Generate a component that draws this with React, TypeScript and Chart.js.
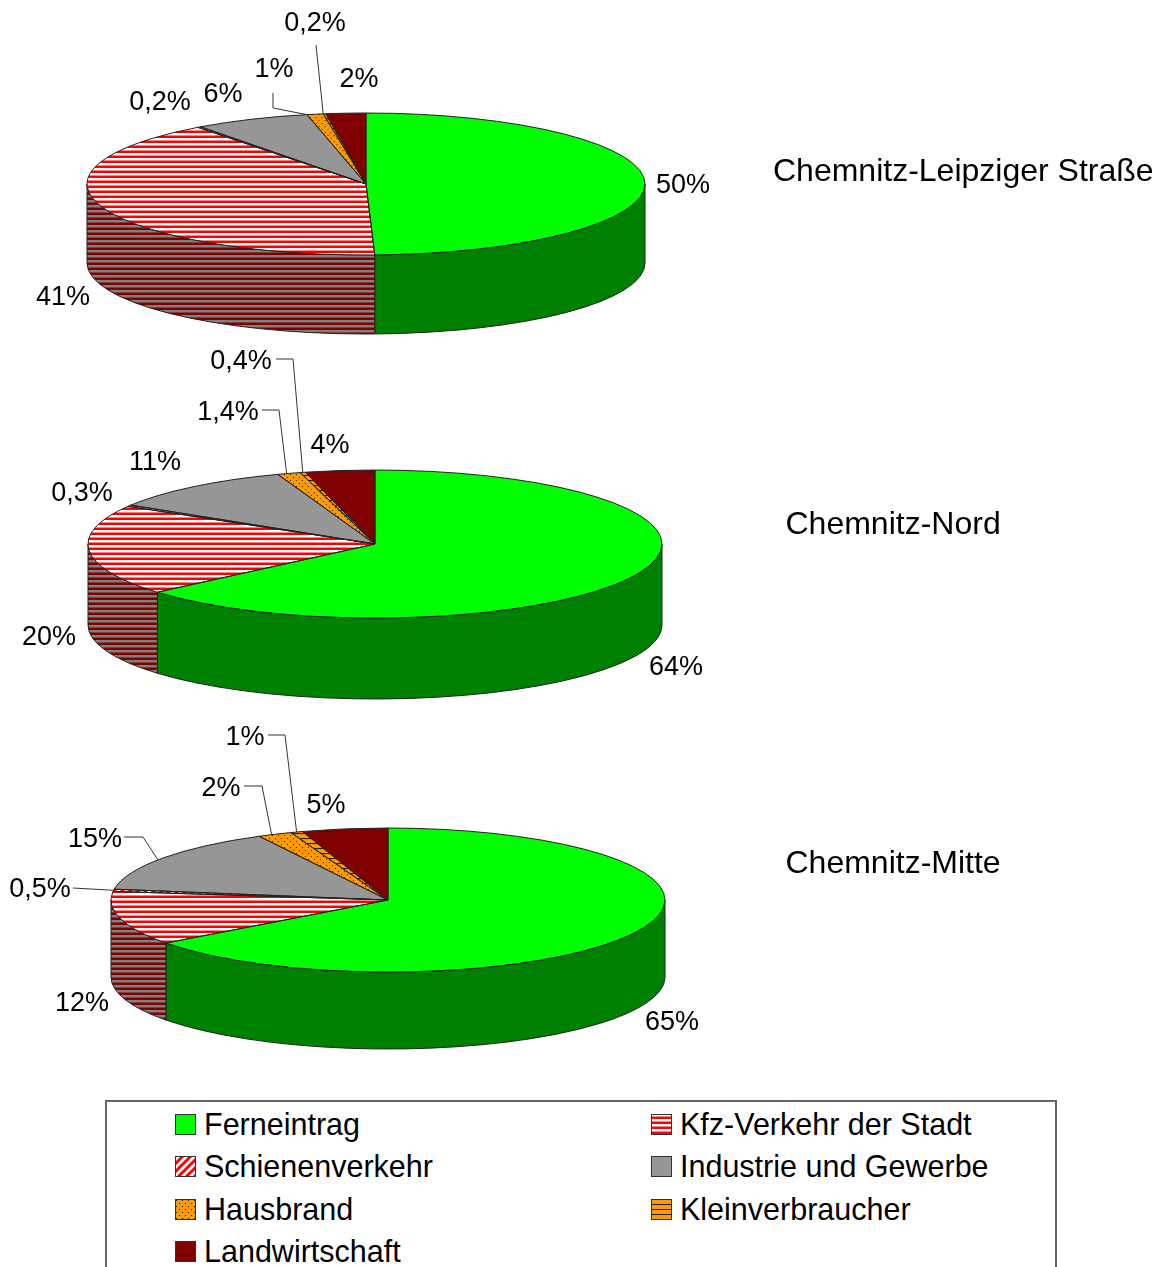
import React, { useEffect, useRef } from "react";
import { Chart, registerables } from "chart.js";

Chart.register(...registerables);

const PAGE_W = 1158;
const PAGE_H = 1267;
const FONT = '"Liberation Sans", Arial, sans-serif';

const categories = ["Ferneintrag", "Kfz-Verkehr der Stadt", "Schienenverkehr", "Industrie und Gewerbe", "Hausbrand", "Kleinverbraucher", "Landwirtschaft"];

const leipzigerValues = [49.5, 40.2, 0.2, 6.7, 0.95, 0.15, 2.3];
const nordValues = [63.7, 19.8, 0.3, 10.7, 1.3, 0.3, 3.9];
const mitteValues = [64.8, 12.1, 0.5, 14.9, 2, 0.7, 5];

const leipzigerLabels = ["50%", "41%", "0,2%", "6%", "1%", "0,2%", "2%"];
const nordLabels = ["64%", "20%", "0,3%", "11%", "1,4%", "0,4%", "4%"];
const mitteLabels = ["65%", "12%", "0,5%", "15%", "2%", "1%", "5%"];

const titles = ["Chemnitz-Leipziger Straße", "Chemnitz-Nord", "Chemnitz-Mitte"];

// ---- layout (page pixels), separate from the data ----
type Leader = { pts: number[][]; at: number };
type Pos = { x: number; y: number; leader?: Leader };

const pieLayouts = [
  {
    top: 0, height: 345, cx: 366, cy: 184, rx: 279, ry: 71, depth: 79,
    titleX: 773, titleY: 170,
    labels: [
      { x: 683, y: 186 }, { x: 63, y: 298 }, { x: 160, y: 103 }, { x: 223, y: 95 },
      { x: 274, y: 70, leader: { pts: [[273, 93], [273, 108]], at: 0 } },
      { x: 315, y: 24, leader: { pts: [[316, 45]], at: 0 } },
      { x: 359, y: 80 },
    ] as Pos[],
  },
  {
    top: 345, height: 360, cx: 375, cy: 544, rx: 287, ry: 74, depth: 81,
    titleX: 785.5, titleY: 523,
    labels: [
      { x: 676, y: 668 }, { x: 49, y: 638 }, { x: 82, y: 494 }, { x: 155, y: 463 },
      { x: 228, y: 413, leader: { pts: [[262, 410], [279, 410]], at: 0.4 } },
      { x: 241, y: 362, leader: { pts: [[276, 359], [293, 359]], at: 0.5 } },
      { x: 330, y: 446 },
    ] as Pos[],
  },
  {
    top: 705, height: 360, cx: 388, cy: 900, rx: 277, ry: 72, depth: 77,
    titleX: 785.5, titleY: 862,
    labels: [
      { x: 672, y: 1023 }, { x: 82, y: 1004 },
      { x: 40, y: 890, leader: { pts: [[73, 888]], at: 0.5 } },
      { x: 95, y: 840, leader: { pts: [[124, 837], [143, 837]], at: 0.47 } },
      { x: 221, y: 789, leader: { pts: [[244, 786], [262, 786]], at: 0.4 } },
      { x: 245, y: 738, leader: { pts: [[268, 735], [285, 735]], at: 0.5 } },
      { x: 326, y: 806 },
    ] as Pos[],
  },
];

const legendBox = { left: 105, top: 1100, width: 952, height: 220 };
const legendCols = [{ swatch: 175, text: 204 }, { swatch: 651, text: 680 }];
const legendRows = [1124, 1166, 1209, 1251];
const legendOrder = [
  [0, 0, 0], [1, 1, 0], [2, 0, 1], [3, 1, 1], [4, 0, 2], [5, 1, 2], [6, 0, 3],
];

// ---- fills ----
type Kind = "solid" | "hstripe" | "diag" | "dots" | "lines";
const topStyles: { kind: Kind; a: string; b: string }[] = [
  { kind: "solid", a: "#00ff00", b: "" },
  { kind: "hstripe", a: "#ff0000", b: "#ffffff" },
  { kind: "diag", a: "#ff0000", b: "#ffffff" },
  { kind: "solid", a: "#969696", b: "" },
  { kind: "dots", a: "#ff9900", b: "#222222" },
  { kind: "lines", a: "#ff9900", b: "#222222" },
  { kind: "solid", a: "#800000", b: "" },
];
const sideStyles: { kind: Kind; a: string; b: string }[] = [
  { kind: "solid", a: "#008000", b: "" },
  { kind: "hstripe", a: "#800000", b: "#808080" },
  { kind: "diag", a: "#800000", b: "#808080" },
  { kind: "solid", a: "#4b4b4b", b: "" },
  { kind: "dots", a: "#804c00", b: "#111111" },
  { kind: "lines", a: "#804c00", b: "#111111" },
  { kind: "solid", a: "#400000", b: "" },
];

function makeFill(ctx: CanvasRenderingContext2D, st: { kind: Kind; a: string; b: string }, sx = 1, sy = 1): any {
  if (st.kind === "solid") return st.a;
  const tile = document.createElement("canvas");
  const size = st.kind === "diag" ? 8 : st.kind === "dots" ? 6 : 5;
  tile.width = size;
  tile.height = size;
  const t = tile.getContext("2d")!;
  if (st.kind === "hstripe") {
    t.fillStyle = st.a;
    t.fillRect(0, 0, size, size);
    t.fillStyle = st.b;
    t.fillRect(0, 0, size, 2.5);
  } else if (st.kind === "diag") {
    t.fillStyle = st.b;
    t.fillRect(0, 0, size, size);
    t.strokeStyle = st.a;
    t.lineWidth = 3;
    t.beginPath();
    t.moveTo(-2, 10); t.lineTo(10, -2);
    t.moveTo(-6, 6); t.lineTo(6, -6);
    t.moveTo(2, 14); t.lineTo(14, 2);
    t.stroke();
  } else if (st.kind === "dots") {
    t.fillStyle = st.a;
    t.fillRect(0, 0, size, size);
    t.fillStyle = st.b;
    t.fillRect(1, 1, 1, 1);
    t.fillRect(4, 4, 1, 1);
  } else {
    t.fillStyle = st.a;
    t.fillRect(0, 0, size, size);
    t.fillStyle = st.b;
    t.fillRect(0, 0, size, 1);
  }
  const p = ctx.createPattern(tile, "repeat")!;
  p.setTransform(new DOMMatrix().scale(sx, sy));
  return p;
}

// ---- 3D pie plugin: maps the library's round arcs onto a tilted disc ----
function tiltPlugin(layout: (typeof pieLayouts)[number], labels: string[], sideFills: any[]) {
  const cy = () => layout.cy - layout.top;
  return {
    id: "tilt",
    beforeDatasetsDraw(chart: any) {
      const ctx: CanvasRenderingContext2D = chart.ctx;
      const arcs = chart.getDatasetMeta(0).data;
      const c = cy();
      // extruded wall
      arcs.forEach((arc: any, i: number) => {
        const a = Math.max(arc.startAngle, 0);
        const b = Math.min(arc.endAngle, Math.PI);
        if (b <= a) return;
        ctx.beginPath();
        ctx.ellipse(layout.cx, c, layout.rx, layout.ry, 0, a, b);
        ctx.ellipse(layout.cx, c + layout.depth, layout.rx, layout.ry, 0, b, a, true);
        ctx.closePath();
        ctx.fillStyle = sideFills[i];
        ctx.fill();
        ctx.lineWidth = 1;
        ctx.strokeStyle = "#222222";
        ctx.stroke();
      });
      // top face: the library draws arcs under this transform
      const first = arcs[0];
      ctx.save();
      ctx.translate(layout.cx, c);
      ctx.scale(layout.rx / first.outerRadius, layout.ry / first.outerRadius);
      ctx.translate(-first.x, -first.y);
    },
    afterDatasetsDraw(chart: any) {
      const ctx: CanvasRenderingContext2D = chart.ctx;
      ctx.restore();
      const arcs = chart.getDatasetMeta(0).data;
      const c = cy();
      ctx.lineWidth = 1;
      ctx.strokeStyle = "#222222";
      arcs.forEach((arc: any) => {
        ctx.beginPath();
        ctx.moveTo(layout.cx, c);
        ctx.ellipse(layout.cx, c, layout.rx, layout.ry, 0, arc.startAngle, arc.endAngle);
        ctx.closePath();
        ctx.stroke();
      });
      ctx.fillStyle = "#000000";
      ctx.font = `27px ${FONT}`;
      ctx.textAlign = "center";
      ctx.textBaseline = "middle";
      layout.labels.forEach((pos, i) => {
        ctx.fillText(labels[i], pos.x, pos.y - layout.top);
        if (pos.leader) {
          const arc = arcs[i];
          const ang = arc.startAngle + (arc.endAngle - arc.startAngle) * pos.leader.at;
          ctx.beginPath();
          pos.leader.pts.forEach((p, k) => {
            if (k === 0) ctx.moveTo(p[0], p[1] - layout.top);
            else ctx.lineTo(p[0], p[1] - layout.top);
          });
          ctx.lineTo(layout.cx + layout.rx * Math.cos(ang), c + layout.ry * Math.sin(ang));
          ctx.strokeStyle = "#333333";
          ctx.stroke();
        }
      });
    },
  };
}

function Pie({ layoutIndex, values, labels }: { layoutIndex: number; values: number[]; labels: string[] }) {
  const ref = useRef<HTMLCanvasElement>(null);
  const layout = pieLayouts[layoutIndex];
  useEffect(() => {
    const canvas = ref.current!;
    const ctx = canvas.getContext("2d")!;
    const R = layout.height / 2;
    const topFills = topStyles.map((s) => makeFill(ctx, s, R / layout.rx, R / layout.ry));
    const sideFills = sideStyles.map((s) => makeFill(ctx, s));
    const chart = new Chart(canvas, {
      type: "pie",
      data: {
        labels: categories,
        datasets: [{ data: values, backgroundColor: topFills, borderWidth: 0 }],
      },
      options: {
        responsive: false,
        animation: false,
        devicePixelRatio: 1,
        events: [],
        plugins: { legend: { display: false }, tooltip: { enabled: false } },
      } as any,
      plugins: [tiltPlugin(layout, labels, sideFills) as any],
    });
    return () => chart.destroy();
  }, []);
  return (
    <canvas
      ref={ref}
      width={PAGE_W}
      height={layout.height}
      style={{ position: "absolute", left: 0, top: layout.top, width: PAGE_W, height: layout.height }}
    />
  );
}

function Swatch({ index, left, top }: { index: number; left: number; top: number }) {
  const ref = useRef<HTMLCanvasElement>(null);
  useEffect(() => {
    const ctx = ref.current!.getContext("2d")!;
    ctx.fillStyle = makeFill(ctx, topStyles[index]);
    ctx.fillRect(0, 0, 21, 21);
    ctx.strokeStyle = "#333333";
    ctx.lineWidth = 1;
    ctx.strokeRect(0.5, 0.5, 20, 20);
  }, []);
  return <canvas ref={ref} width={21} height={21} style={{ position: "absolute", left, top }} />;
}

export default function App() {
  useEffect(() => {
    document.body.style.margin = "0";
    document.body.style.background = "#ffffff";
  }, []);
  return (
    <div style={{ position: "absolute", left: 0, top: 0, width: PAGE_W, height: PAGE_H, overflow: "hidden", background: "#fff", fontFamily: FONT }}>
      <Pie layoutIndex={0} values={leipzigerValues} labels={leipzigerLabels} />
      <Pie layoutIndex={1} values={nordValues} labels={nordLabels} />
      <Pie layoutIndex={2} values={mitteValues} labels={mitteLabels} />
      {titles.map((t, i) => (
        <div key={t} style={{ position: "absolute", left: pieLayouts[i].titleX, top: pieLayouts[i].titleY - 20, height: 40, lineHeight: "40px", fontSize: 32, whiteSpace: "nowrap", color: "#000" }}>
          {t}
        </div>
      ))}
      <div style={{ position: "absolute", boxSizing: "border-box", left: legendBox.left, top: legendBox.top, width: legendBox.width, height: legendBox.height, border: "2px solid #666" }} />
      {legendOrder.map(([cat, col, row]) => (
        <React.Fragment key={cat}>
          <Swatch index={cat} left={legendCols[col].swatch} top={legendRows[row] - 10} />
          <div style={{ position: "absolute", left: legendCols[col].text, top: legendRows[row] - 20, height: 40, lineHeight: "40px", fontSize: 30.5, whiteSpace: "nowrap", color: "#000" }}>
            {categories[cat]}
          </div>
        </React.Fragment>
      ))}
    </div>
  );
}
